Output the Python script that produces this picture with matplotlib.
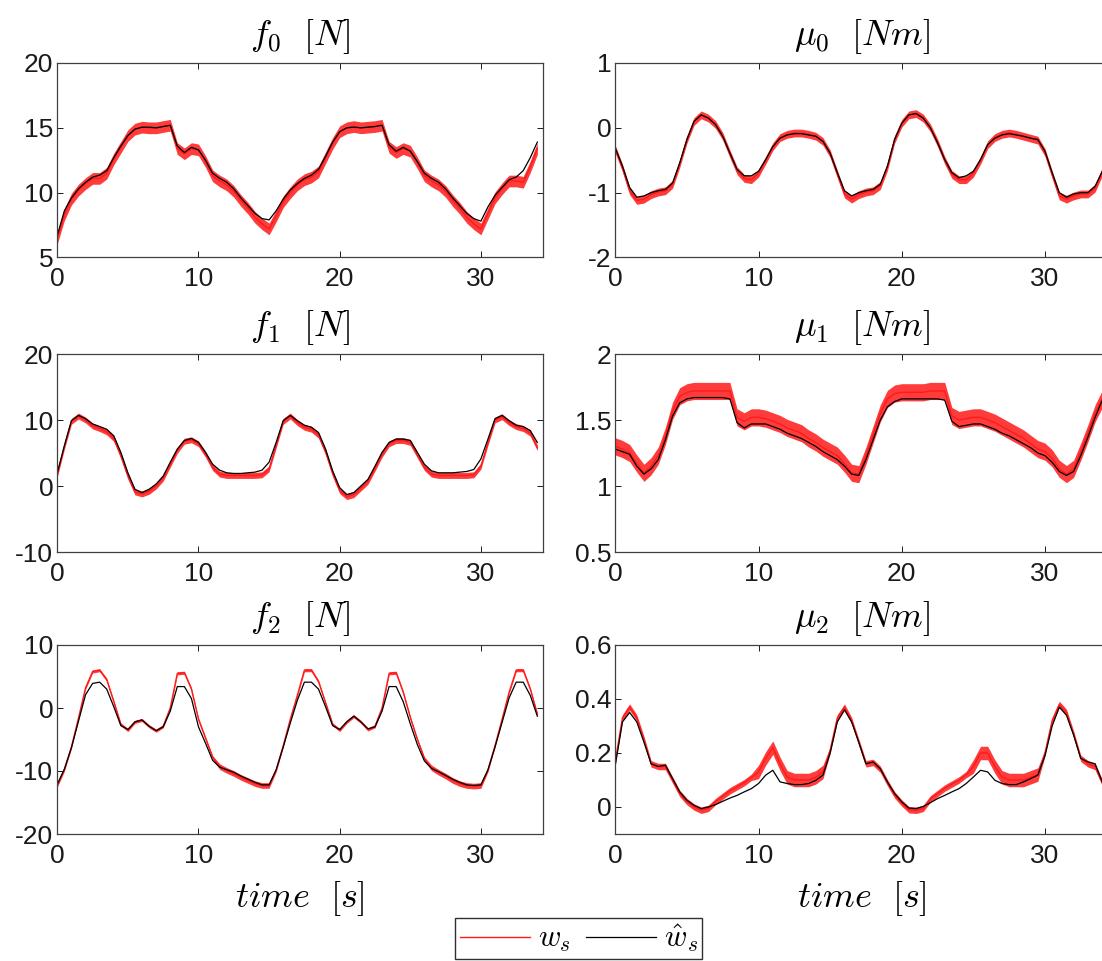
import numpy as np
import matplotlib.pyplot as plt
from matplotlib.lines import Line2D
from matplotlib.ticker import FormatStrFormatter

plt.rcParams['font.family'] = ['Liberation Sans', 'DejaVu Sans']
plt.rcParams['mathtext.fontset'] = 'cm'

# sample times (s)
t = np.arange(0, 34.01, 0.5)

f0_est = [6.7, 8.6, 9.6, 10.3, 10.8, 11.2, 11.35, 11.7, 12.7, 13.6,
          14.4, 14.9, 15.05, 15.05, 15.0, 15.1, 15.2, 13.6, 13.1, 13.5,
          13.3, 12.5, 11.5, 11.1, 10.8, 10.3, 9.6, 9.0, 8.4, 8.0,
          7.9, 8.6, 9.5, 10.2, 10.7, 11.1, 11.35, 11.8, 12.8, 13.9,
          14.7, 15.0, 15.05, 15.0, 15.05, 15.1, 15.2, 13.7, 13.2, 13.5,
          13.2, 12.4, 11.5, 11.1, 10.8, 10.3, 9.6, 9.0, 8.4, 8.0,
          7.8, 8.9, 9.8, 10.4, 11.0, 11.2, 11.7, 12.7, 13.9]
f0_meas = [6.5, 8.3, 9.5, 10.2, 10.7, 11.1, 11.1, 11.5, 12.6, 13.5,
           14.4, 14.9, 15.05, 15.0, 15.0, 15.1, 15.2, 13.4, 13.0, 13.4,
           13.3, 12.4, 11.3, 10.9, 10.6, 10.1, 9.4, 8.8, 8.1, 7.6,
           7.2, 8.2, 9.3, 10.0, 10.6, 11.0, 11.2, 11.6, 12.7, 13.8,
           14.7, 15.0, 15.1, 15.0, 15.05, 15.1, 15.2, 13.5, 13.1, 13.4,
           13.2, 12.3, 11.3, 10.9, 10.6, 10.1, 9.4, 8.8, 8.1, 7.6,
           7.2, 8.4, 9.6, 10.3, 10.9, 10.9, 10.8, 12.0, 13.4]
f0_spread = [0.45] * 69

mu0_est = [-0.31, -0.59, -0.92, -1.07, -1.05, -1.0, -0.97, -0.95, -0.85, -0.54,
           -0.18, 0.1, 0.2, 0.15, 0.05, -0.13, -0.39, -0.64, -0.74, -0.74,
           -0.67, -0.49, -0.29, -0.16, -0.11, -0.09, -0.09, -0.11, -0.13, -0.21,
           -0.39, -0.69, -0.97, -1.05, -1.0, -0.97, -0.95, -0.87, -0.59, -0.18,
           0.07, 0.2, 0.22, 0.15, 0.0, -0.23, -0.49, -0.69, -0.77, -0.74,
           -0.67, -0.49, -0.26, -0.16, -0.11, -0.09, -0.11, -0.13, -0.16, -0.18,
           -0.36, -0.69, -1.0, -1.07, -1.02, -1.0, -1.0, -0.9, -0.67]
mu0_meas = [-0.33, -0.62, -0.97, -1.12, -1.1, -1.03, -0.99, -0.97, -0.87, -0.55,
            -0.18, 0.1, 0.2, 0.15, 0.05, -0.13, -0.4, -0.66, -0.78, -0.8,
            -0.7, -0.5, -0.29, -0.15, -0.1, -0.08, -0.08, -0.1, -0.13, -0.21,
            -0.4, -0.71, -1.02, -1.1, -1.03, -0.99, -0.97, -0.89, -0.6, -0.18,
            0.07, 0.2, 0.22, 0.15, 0.0, -0.23, -0.5, -0.72, -0.8, -0.8,
            -0.7, -0.5, -0.26, -0.15, -0.1, -0.08, -0.1, -0.13, -0.16, -0.19,
            -0.38, -0.72, -1.05, -1.1, -1.05, -1.02, -1.02, -0.93, -0.68]
mu0_spread = [0.06] * 69

f1_est = [2.0, 6.1, 9.9, 10.7, 10.2, 9.4, 9.0, 8.6, 7.6, 5.1,
          2.0, -0.5, -1.0, -0.5, 0.3, 1.5, 3.6, 5.6, 6.9, 7.2,
          6.6, 5.1, 3.3, 2.4, 2.0, 1.9, 1.9, 2.0, 2.1, 2.4,
          3.6, 6.6, 9.9, 10.7, 9.9, 9.2, 8.9, 8.1, 5.6, 2.3,
          -0.25, -1.3, -1.0, 0.0, 1.0, 3.0, 5.1, 6.6, 7.1, 7.1,
          6.9, 5.1, 3.3, 2.3, 2.0, 2.0, 2.0, 2.1, 2.2, 2.5,
          4.1, 7.1, 10.2, 10.7, 9.9, 9.2, 9.0, 8.4, 6.6]
f1_meas = [1.8, 6.0, 9.8, 10.6, 10.0, 9.1, 8.7, 8.2, 7.2, 4.6,
           1.5, -0.9, -1.2, -0.8, 0.0, 1.2, 3.3, 5.4, 6.8, 7.0,
           6.4, 4.8, 2.8, 1.8, 1.6, 1.6, 1.6, 1.6, 1.6, 1.7,
           2.6, 6.2, 9.8, 10.6, 9.6, 8.9, 8.6, 7.7, 5.2, 1.9,
           -0.7, -1.6, -1.3, -0.3, 0.7, 2.7, 4.8, 6.4, 6.9, 6.9,
           6.6, 4.7, 2.8, 1.8, 1.6, 1.6, 1.6, 1.6, 1.6, 1.7,
           3.0, 6.6, 10.0, 10.5, 9.6, 9.0, 8.7, 8.0, 5.8]
f1_spread = [0.45] * 69

mu1_est = [1.28, 1.26, 1.24, 1.15, 1.09, 1.13, 1.2, 1.35, 1.53, 1.63,
           1.66, 1.67, 1.67, 1.67, 1.67, 1.67, 1.66, 1.48, 1.44, 1.47,
           1.47, 1.47, 1.45, 1.43, 1.40, 1.38, 1.36, 1.33, 1.30, 1.26,
           1.23, 1.2, 1.15, 1.09, 1.08, 1.2, 1.35, 1.5, 1.6, 1.64,
           1.66, 1.66, 1.66, 1.66, 1.66, 1.66, 1.65, 1.49, 1.45, 1.46,
           1.47, 1.47, 1.45, 1.43, 1.4, 1.38, 1.35, 1.32, 1.29, 1.25,
           1.23, 1.18, 1.11, 1.08, 1.11, 1.23, 1.37, 1.52, 1.65]
mu1_meas = [1.3, 1.28, 1.25, 1.17, 1.1, 1.15, 1.23, 1.38, 1.57, 1.68,
            1.71, 1.72, 1.72, 1.72, 1.72, 1.72, 1.72, 1.52, 1.49, 1.52,
            1.52, 1.51, 1.49, 1.47, 1.44, 1.42, 1.4, 1.36, 1.33, 1.29,
            1.26, 1.23, 1.17, 1.1, 1.09, 1.23, 1.39, 1.55, 1.66, 1.7,
            1.71, 1.71, 1.71, 1.71, 1.72, 1.72, 1.72, 1.53, 1.5, 1.51,
            1.52, 1.52, 1.5, 1.48, 1.45, 1.42, 1.39, 1.36, 1.32, 1.28,
            1.26, 1.21, 1.13, 1.09, 1.13, 1.26, 1.4, 1.55, 1.66]
mu1_spread = [0.065] * 69

f2_est = [-12.1, -9.7, -6.3, -2.1, 2.1, 3.9, 4.1, 3.0, 0.2, -2.8,
          -3.4, -2.2, -1.9, -2.9, -3.6, -3.0, -0.5, 3.4, 3.4, 1.5,
          -3.0, -5.6, -8.3, -9.4, -9.8, -10.2, -10.8, -11.3, -11.8, -12.2,
          -12.2, -9.8, -6.2, -2.4, 1.2, 4.1, 4.1, 3.0, 0.2, -2.8,
          -3.4, -2.2, -1.3, -2.2, -3.3, -3.0, -0.5, 3.4, 3.4, 1.0,
          -2.5, -5.8, -8.4, -9.6, -10.1, -10.7, -11.3, -11.8, -12.2, -12.3,
          -12.2, -9.8, -6.2, -2.3, 1.6, 4.1, 4.1, 2.0, -1.3]
f2_meas = [-12.3, -9.8, -6.2, -1.6, 3.2, 5.8, 6.0, 4.5, 1.0, -2.6,
           -3.5, -2.2, -1.9, -2.9, -3.6, -2.9, 0.0, 5.5, 5.6, 3.0,
           -1.8, -4.8, -7.8, -9.3, -9.9, -10.4, -11.0, -11.5, -12.0, -12.3,
           -12.3, -9.9, -6.0, -1.8, 2.0, 6.0, 6.0, 4.2, 0.8, -2.6,
           -3.5, -2.2, -1.3, -2.2, -3.4, -2.9, 0.0, 5.5, 5.6, 2.5,
           -1.5, -5.0, -8.0, -9.5, -10.2, -10.8, -11.5, -12.0, -12.3, -12.4,
           -12.3, -9.9, -6.0, -1.8, 2.5, 6.0, 6.0, 3.0, -1.0]
f2_spread = [0.25] * 23 + [0.45] * 8 + [0.25] * 22 + [0.45] * 8 + [0.25] * 8

mu2_est = [0.155, 0.315, 0.35, 0.315, 0.24, 0.16, 0.15, 0.155, 0.105, 0.056,
           0.025, 0.006, -0.006, 0.0, 0.009, 0.021, 0.033, 0.043, 0.056, 0.068,
           0.087, 0.118, 0.136, 0.093, 0.087, 0.083, 0.083, 0.087, 0.099, 0.118,
           0.2, 0.315, 0.36, 0.315, 0.24, 0.16, 0.167, 0.142, 0.093, 0.05,
           0.019, -0.004, -0.006, 0.002, 0.016, 0.031, 0.043, 0.056, 0.068, 0.087,
           0.111, 0.136, 0.13, 0.099, 0.087, 0.083, 0.083, 0.093, 0.105, 0.118,
           0.19, 0.3, 0.37, 0.34, 0.266, 0.18, 0.167, 0.16, 0.093]
mu2_meas = [0.17, 0.33, 0.37, 0.33, 0.25, 0.16, 0.15, 0.15, 0.1, 0.05,
            0.02, 0.0, -0.012, -0.005, 0.02, 0.04, 0.06, 0.075, 0.09, 0.11,
            0.13, 0.18, 0.22, 0.16, 0.11, 0.1, 0.1, 0.1, 0.11, 0.13,
            0.21, 0.33, 0.37, 0.32, 0.24, 0.16, 0.165, 0.14, 0.09, 0.045,
            0.015, -0.01, -0.012, -0.005, 0.03, 0.05, 0.07, 0.085, 0.1, 0.12,
            0.15, 0.2, 0.2, 0.15, 0.11, 0.1, 0.1, 0.1, 0.11, 0.12,
            0.2, 0.32, 0.38, 0.35, 0.27, 0.18, 0.16, 0.15, 0.09]
mu2_spread = [0.012] * 20 + [0.025] * 10 + [0.012] * 20 + [0.025] * 10 + [0.012] * 9

titles = [r'$f_0\ \ [N]$', r'$\mu_0\ \ [Nm]$',
          r'$f_1\ \ [N]$', r'$\mu_1\ \ [Nm]$',
          r'$f_2\ \ [N]$', r'$\mu_2\ \ [Nm]$']
est = [f0_est, mu0_est, f1_est, mu1_est, f2_est, mu2_est]
meas = [f0_meas, mu0_meas, f1_meas, mu1_meas, f2_meas, mu2_meas]
spread = [f0_spread, mu0_spread, f1_spread, mu1_spread, f2_spread, mu2_spread]
ylims = [(5, 20), (-2, 1), (-10, 20), (0.5, 2), (-20, 10), (-0.1, 0.6)]
yticks = [[5, 10, 15, 20], [-2, -1, 0, 1], [-10, 0, 10, 20],
          [0.5, 1, 1.5, 2], [-20, -10, 0, 10], [0, 0.2, 0.4, 0.6]]
xticks = [0, 10, 20, 30]

W, H = 1102, 961
fig = plt.figure(figsize=(W / 100, H / 100), dpi=100)

# axes boxes in pixels: (left, right) and (top, bottom)
col_px = [(57.3, 543.0), (615.3, 1108.0)]
row_px = [(63.0, 257.5), (354.0, 552.0), (645.0, 834.0)]

red = '#ff1a1a'
for i in range(6):
    r, c = divmod(i, 2)
    x0, x1 = col_px[c]
    y0, y1 = row_px[r]
    ax = fig.add_axes([x0 / W, 1 - y1 / H, (x1 - x0) / W, (y1 - y0) / H])
    m = np.array(meas[i])
    s = np.array(spread[i])
    ax.fill_between(t, m - s, m + s, color=red, alpha=0.85, lw=0)
    ax.plot(t, m, color=red, lw=1.0)
    ax.plot(t, est[i], color='black', lw=0.9)
    ax.set_xlim(0, 34.4)
    ax.set_ylim(*ylims[i])
    ax.set_xticks(xticks)
    ax.set_yticks(yticks[i])
    ax.yaxis.set_major_formatter(FormatStrFormatter('%g'))
    ax.tick_params(direction='in', length=4, width=0.7, top=True, right=True,
                   labelsize=19, colors='#1a1a1a')
    ax.tick_params(axis='x', pad=7)
    ax.tick_params(axis='y', pad=3)
    for sp in ax.spines.values():
        sp.set_color('#404040')
        sp.set_linewidth(0.9)
    ax.set_title(titles[i], fontsize=26, pad=13)
    if r == 2:
        ax.set_xlabel(r'$time\ \ [s]$', fontsize=26, labelpad=8)

handles = [Line2D([], [], color=red, lw=1.0), Line2D([], [], color='black', lw=0.9)]
fig.legend(handles, [r'$w_s$', r'$\hat{w}_s$'], loc='upper left',
           bbox_to_anchor=(455 / W, 1 - 918 / H), ncol=2, frameon=True,
           fancybox=False, edgecolor='#303030', framealpha=1, fontsize=22,
           handlelength=2.3, handletextpad=0.25, columnspacing=0.5,
           borderpad=0.15, borderaxespad=0)

fig.savefig('out.png', dpi=100)
